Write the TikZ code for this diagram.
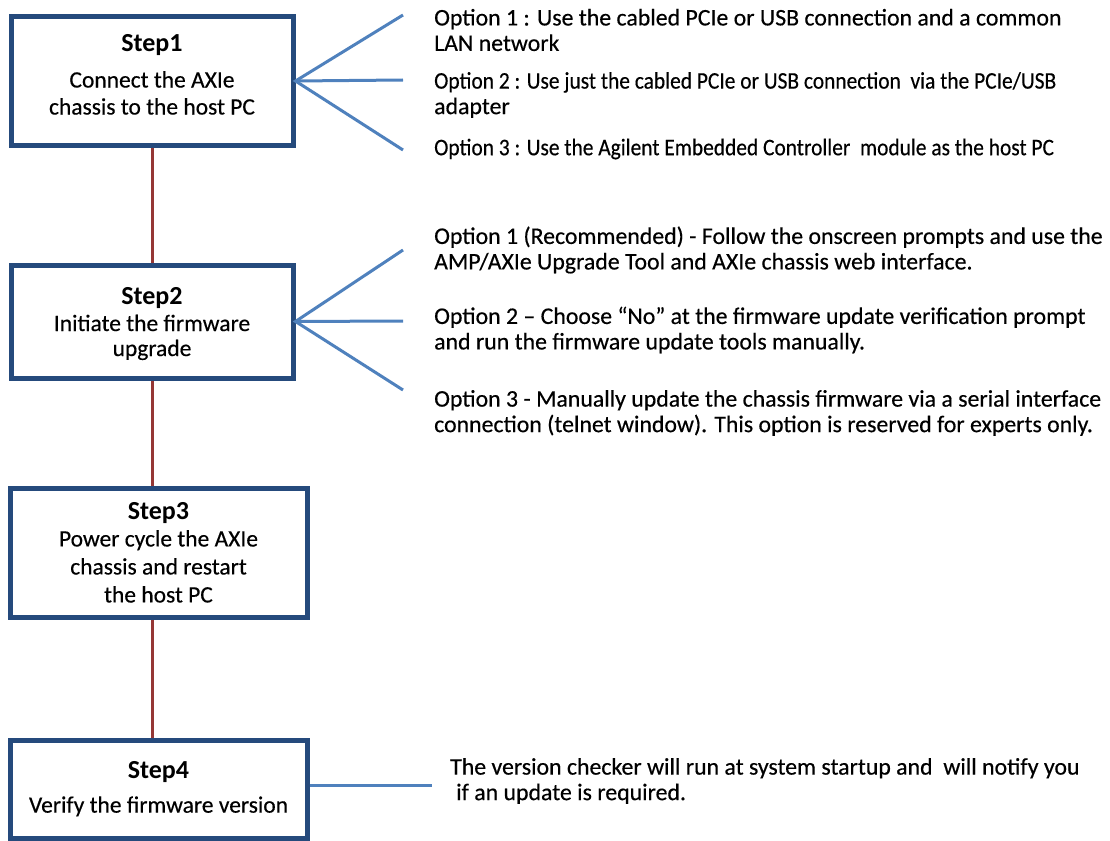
\documentclass[tikz,border=0pt]{standalone}
\usepackage{fontspec}
\setmainfont{Carlito}[UprightFeatures={FakeBold=0.4}]
\usetikzlibrary{positioning}
\definecolor{stepblue}{RGB}{37,74,124}
\definecolor{fanblue}{RGB}{79,129,189}
\definecolor{linkred}{RGB}{149,55,53}

\begin{document}
\begin{tikzpicture}[
      x=1pt, y=-1pt,
      every node/.style={font=\fontsize{23.5}{27}\selectfont},
      stepbox/.style={draw=stepblue, line width=5pt, align=center,
                      minimum width=282pt, inner sep=0pt},
      opt/.style={anchor=west, align=left, inner sep=0pt,
                  font=\fontsize{23.8}{25.5}\selectfont},
      link/.style={draw=linkred, line width=3pt},
      fan/.style={draw=fanblue, line width=3pt},
    ]
    \useasboundingbox (0,0) rectangle (1110,840);

    % ── Steps ───────────────────────────────────────────────
    \node[stepbox, minimum height=128pt, text depth=13pt] (s1) at (152,81)
      {{\fontsize{26}{30}\selectfont\bfseries Step1}\\[9pt]
       Connect the AXIe\\chassis to the host PC};
    \node[stepbox, minimum height=113pt, text depth=0pt] (s2) at (152,321.5)
      {{\fontsize{26}{30}\selectfont\bfseries Step2}\\[0pt]
       Initiate the firmware\\[-2pt]upgrade};
    \node[stepbox, minimum height=129pt, minimum width=297pt] (s3)
      at (158.5,552.5)
      {{\fontsize{26}{30}\selectfont\bfseries Step3}\\[0pt]
       Power cycle the AXIe\\[1pt]chassis and restart\\[1pt]the host PC};
    \node[stepbox, minimum height=98pt, minimum width=297pt] (s4)
      at (158.5,789)
      {{\fontsize{26}{30}\selectfont\bfseries Step4}\\[7pt]
       Verify the firmware version};

    % ── Options for Step1 ───────────────────────────────────
    \node[opt] (o11) at (434,30)
      {Option 1 : Use the cabled PCIe or USB connection and a common\\
       LAN network};
    \node[opt] (o12) at (434,95)
      {\scalebox{0.9}[1]{Option 2 : Use just the cabled PCIe or USB connection\ \ via the PCIe/USB}\\
       adapter};
    \node[opt] (o13) at (434,149)
      {\scalebox{0.9}[1]{Option 3 : Use the Agilent Embedded Controller\ \ module as the host PC}};

    % ── Options for Step2 ───────────────────────────────────
    \node[opt] (o21) at (434,250)
      {Option 1 (Recommended) - Follow the onscreen prompts and use the\\
       AMP/AXIe Upgrade Tool and AXIe chassis web interface.};
    \node[opt] (o22) at (434,330)
      {Option 2 – Choose “No” at the firmware update verification prompt\\
       and run the firmware update tools manually.};
    \node[opt] (o23) at (434,413)
      {Option 3 - Manually update the chassis firmware via a serial interface\\
       connection (telnet window). This option is reserved for experts only.};

    % ── Note for Step4 ──────────────────────────────────────
    \node[opt] (n4) at (450,781)
      {The version checker will run at system startup and\ \ will notify you\\
       \hspace{6pt}if an update is required.};

    % ── Fan ends ────────────────────────────────────────────
    \coordinate (f11) at (403,15);
    \coordinate (f12) at (403,80);
    \coordinate (f13) at (403,150);
    \coordinate (f21) at (403,250);
    \coordinate (f22) at (403,321);
    \coordinate (f23) at (403,390);
    \coordinate (f4)  at (432,785);

    % ── Connectors ──────────────────────────────────────────
    \draw[link] (s1.south) -- (s1.south |- s2.north);
    \draw[link] (s2.south) -- (s2.south |- s3.north);
    \draw[link] (s2.south |- s3.south) -- (s2.south |- s4.north);

    \draw[fan] (f11) -- (s1.east) -- (f13);
    \draw[fan] (s1.east) -- (f12);
    \draw[fan] (f21) -- (s2.east) -- (f23);
    \draw[fan] (s2.east) -- (f22);
    \draw[fan] (s4.east |- f4) -- (f4);
  \end{tikzpicture}
\end{document}
